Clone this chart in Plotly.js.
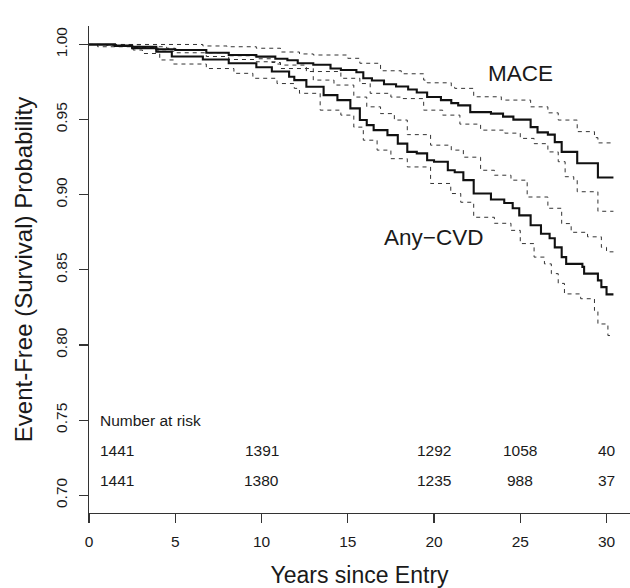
<!DOCTYPE html>
<html>
<head>
<meta charset="utf-8">
<script src="https://cdn.plot.ly/plotly-3.0.1.min.js"></script>
<style>
  html, body { margin: 0; padding: 0; background: #ffffff; }
  #chart { width: 630px; height: 588px; }
</style>
</head>
<body>
<div id="chart"></div>
<script>
// ---- Data ----
// MACE Kaplan-Meier estimate
var maceT = [0, 1.5, 2.5, 3.9, 5.0, 6.8, 8.1, 9.7, 10.8, 11.5, 12.1, 13.0, 14.0, 14.6, 15.5, 15.9, 16.4, 17.1, 17.8, 18.5, 19.0, 19.6, 20.4, 21.0, 21.4, 22.1, 23.3, 24.0, 24.6, 25.6, 26.0, 26.6, 27.0, 27.4, 28.3, 29.5, 30.4];
var maceS = [1.0, 0.9993, 0.9985, 0.9968, 0.9963, 0.9945, 0.9930, 0.9919, 0.9905, 0.9895, 0.9875, 0.9865, 0.9840, 0.9830, 0.9815, 0.9775, 0.9760, 0.9735, 0.9720, 0.9700, 0.9680, 0.9650, 0.9630, 0.9610, 0.9595, 0.9550, 0.9540, 0.9520, 0.9500, 0.9450, 0.9415, 0.9400, 0.9350, 0.9285, 0.9210, 0.9115, 0.9115];
// MACE upper confidence limit
var maceUpT = [0, 6.6, 8.0, 9.7, 11.1, 12.2, 13.0, 15.0, 15.7, 16.9, 18.1, 19.4, 19.6, 21.0, 21.2, 22.3, 23.9, 25.6, 26.6, 27.2, 28.3, 29.3, 29.5, 30.4];
var maceUpS = [1.0, 0.9990, 0.9985, 0.9975, 0.9950, 0.9937, 0.9930, 0.9908, 0.9875, 0.9825, 0.9805, 0.9763, 0.9745, 0.9715, 0.9708, 0.9652, 0.9630, 0.9585, 0.9545, 0.9497, 0.9420, 0.9380, 0.9345, 0.9345];
// MACE lower confidence limit
var maceLoT = [0, 1.0, 2.5, 4.0, 5.0, 6.8, 8.1, 9.7, 10.8, 11.1, 12.6, 14.6, 15.7, 16.3, 17.5, 18.1, 19.4, 20.5, 21.5, 22.7, 24.1, 25.0, 25.8, 26.6, 27.2, 27.6, 28.1, 28.3, 29.5, 30.4];
var maceLoS = [1.0, 0.9995, 0.9980, 0.9955, 0.9945, 0.9920, 0.9900, 0.9885, 0.9870, 0.9863, 0.9820, 0.9775, 0.9740, 0.9675, 0.9650, 0.9640, 0.9563, 0.9530, 0.9470, 0.9430, 0.9410, 0.9375, 0.9340, 0.9285, 0.9220, 0.9120, 0.9097, 0.9020, 0.8890, 0.8890];
// Any-CVD Kaplan-Meier estimate
var cvdT = [0, 1.5, 2.5, 3.9, 4.8, 6.6, 8.1, 9.7, 10.6, 11.6, 11.9, 12.6, 13.6, 14.4, 15.15, 15.7, 16.1, 16.5, 17.3, 17.9, 18.45, 19.0, 19.6, 20.0, 20.8, 21.2, 21.7, 22.3, 23.3, 24.07, 24.56, 24.94, 25.6, 26.2, 26.7, 27.0, 27.4, 27.66, 28.6, 28.7, 29.5, 29.7, 30.0, 30.4];
var cvdS = [1.0, 0.9990, 0.9975, 0.9952, 0.9920, 0.9900, 0.9875, 0.9848, 0.9820, 0.9785, 0.9763, 0.9719, 0.9663, 0.9630, 0.9575, 0.9497, 0.9463, 0.9430, 0.9397, 0.9340, 0.9285, 0.9275, 0.9230, 0.9220, 0.9163, 0.9150, 0.9097, 0.9008, 0.8968, 0.8945, 0.8910, 0.8863, 0.8797, 0.8740, 0.8710, 0.8650, 0.8585, 0.8540, 0.8520, 0.8475, 0.8430, 0.8385, 0.8337, 0.8337];
// Any-CVD upper confidence limit
var cvdUpT = [0, 2.0, 3.0, 4.5, 5.0, 6.8, 8.1, 9.7, 10.6, 11.1, 13.0, 14.2, 15.35, 16.1, 16.9, 17.7, 18.45, 19.8, 21.0, 21.7, 22.7, 23.5, 24.46, 25.4, 26.6, 27.4, 27.95, 28.9, 29.7, 30.0, 30.4];
var cvdUpS = [1.0, 0.9998, 0.9985, 0.9975, 0.9960, 0.9945, 0.9925, 0.9905, 0.9880, 0.9840, 0.9763, 0.9730, 0.9650, 0.9585, 0.9540, 0.9497, 0.9400, 0.9330, 0.9297, 0.9250, 0.9163, 0.9130, 0.9097, 0.8985, 0.8910, 0.8808, 0.8750, 0.8720, 0.8650, 0.8620, 0.8620];
// Any-CVD lower confidence limit
var cvdLoT = [0, 0.5, 2.56, 3.1, 4.1, 4.9, 6.8, 8.4, 9.5, 10.9, 11.9, 12.2, 13.4, 14.6, 15.35, 15.9, 16.7, 17.5, 18.45, 19.8, 20.97, 21.55, 22.3, 23.5, 24.46, 25.0, 25.8, 26.4, 26.8, 27.2, 27.56, 28.5, 29.3, 29.5, 30.08, 30.4];
var cvdLoS = [1.0, 0.9985, 0.9963, 0.9940, 0.9897, 0.9870, 0.9840, 0.9808, 0.9775, 0.9740, 0.9708, 0.9675, 0.9563, 0.9530, 0.9450, 0.9363, 0.9297, 0.9240, 0.9185, 0.9075, 0.9008, 0.8950, 0.8850, 0.8810, 0.8763, 0.8675, 0.8585, 0.8540, 0.8475, 0.8410, 0.8340, 0.8308, 0.8230, 0.8140, 0.8063, 0.8063];

// Number at risk table
var riskTimes = [0, 10, 20, 25, 30];
var riskMACE = [1441, 1391, 1292, 1058, 40];
var riskCVD  = [1441, 1380, 1235, 988, 37];

// Tick labels
var xTicks = [0, 5, 10, 15, 20, 25, 30];
var yTicks = [0.70, 0.75, 0.80, 0.85, 0.90, 0.95, 1.00];
var yTickText = ["0.70", "0.75", "0.80", "0.85", "0.90", "0.95", "1.00"];

// Curve labels
var curveLabels = ["MACE", "Any\u2212CVD"];
var curveLabelPos = [[25.0, 0.9804], [19.97, 0.8713]];

// ---- Styling ----
var FONT = "Liberation Sans, Arial, Helvetica, sans-serif";
var INK = "#1a1a1a";

function stepLine(x, y, solid) {
  return {
    x: x, y: y, type: "scatter", mode: "lines",
    line: solid ? { color: "#111111", width: 2.1, shape: "hv" }
                : { color: "#333333", width: 1, shape: "hv", dash: "4px,4px" },
    hoverinfo: "skip", showlegend: false
  };
}

var traces = [
  stepLine(maceUpT, maceUpS, false),
  stepLine(maceLoT, maceLoS, false),
  stepLine(cvdUpT, cvdUpS, false),
  stepLine(cvdLoT, cvdLoS, false),
  stepLine(maceT, maceS, true),
  stepLine(cvdT, cvdS, true)
];

var annotations = [];
annotations.push({
  x: riskTimes[0] + 0.55, y: 0.75, xref: "x", yref: "y",
  text: "Number at risk", showarrow: false, xanchor: "left", yanchor: "middle",
  font: { family: FONT, size: 15.5, color: INK }
});
var rowsY = [0.7297, 0.7097];
[riskMACE, riskCVD].forEach(function (row, r) {
  row.forEach(function (n, i) {
    annotations.push({
      x: i === 0 ? riskTimes[i] + 0.55 : riskTimes[i],
      y: rowsY[r], xref: "x", yref: "y",
      text: String(n), showarrow: false,
      xanchor: i === 0 ? "left" : "center", yanchor: "middle",
      font: { family: FONT, size: 15.5, color: INK }
    });
  });
});
curveLabels.forEach(function (lab, i) {
  annotations.push({
    x: curveLabelPos[i][0], y: curveLabelPos[i][1], xref: "x", yref: "y",
    text: lab, showarrow: false, xanchor: "center", yanchor: "middle",
    font: { family: FONT, size: 22.5, color: INK }
  });
});

var layout = {
  width: 630, height: 588,
  margin: { l: 89, r: 0, t: 26, b: 75, pad: 0 },
  paper_bgcolor: "#ffffff", plot_bgcolor: "#ffffff",
  font: { family: FONT, color: INK },
  showlegend: false,
  xaxis: {
    range: [0, 31.36], autorange: false,
    tickmode: "array", tickvals: xTicks,
    ticks: "outside", ticklen: 9, tickwidth: 1.2, tickcolor: "#333333",
    showline: true, linecolor: "#333333", linewidth: 1.4,
    showgrid: false, zeroline: false,
    tickfont: { family: FONT, size: 15.5, color: INK },
    ticklabelstandoff: 5,
    title: { text: "Years since Entry", font: { family: FONT, size: 23, color: INK }, standoff: 18 }
  },
  yaxis: {
    range: [0.6882, 1.0123], autorange: false,
    tickmode: "array", tickvals: yTicks, ticktext: yTickText,
    tickangle: -90,
    ticks: "outside", ticklen: 9, tickwidth: 1.2, tickcolor: "#333333",
    showline: true, linecolor: "#333333", linewidth: 1.4,
    showgrid: false, zeroline: false,
    tickfont: { family: FONT, size: 15.5, color: INK },
    ticklabelstandoff: 5,
    title: { text: "Event-Free (Survival) Probability", font: { family: FONT, size: 24, color: INK }, standoff: 14 }
  },
  annotations: annotations
};

Plotly.newPlot("chart", traces, layout, { displayModeBar: false, staticPlot: true });
</script>
</body>
</html>
